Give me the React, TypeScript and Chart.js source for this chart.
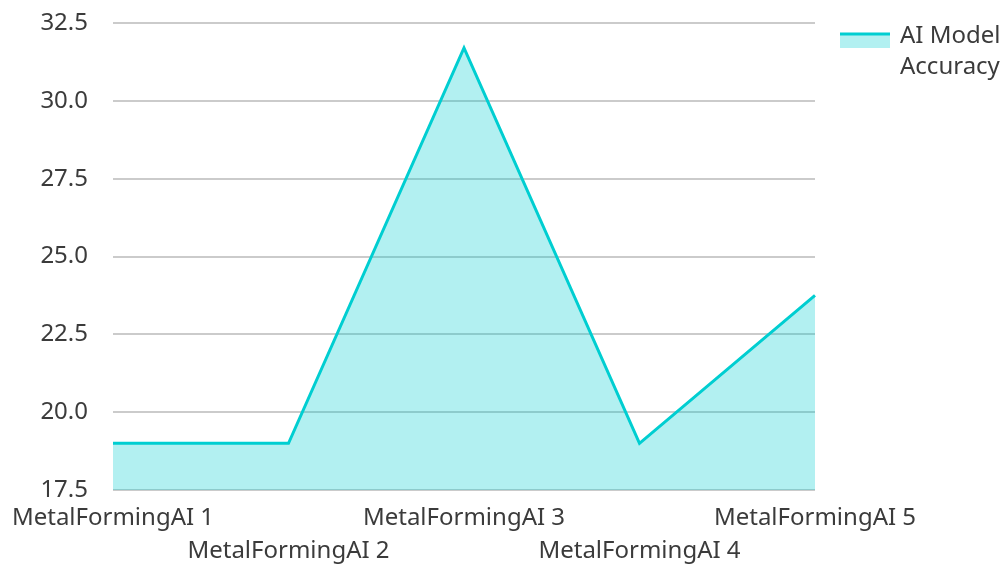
import React, { useEffect, useRef } from 'react';
import { Chart, registerables } from 'chart.js';

Chart.register(...registerables);

const categories: string[] = [
  'MetalFormingAI 1',
  'MetalFormingAI 2',
  'MetalFormingAI 3',
  'MetalFormingAI 4',
  'MetalFormingAI 5',
];
const accuracy: number[] = [19.0, 19.0, 31.7, 19.0, 23.75];
const legendLines: string[] = ['AI Model', 'Accuracy'];
const yMin = 17.5;
const yMax = 32.5;
const yStep = 2.5;

const LINE = '#00CED1';
const FILL = 'rgba(0, 206, 209, 0.3)';
const TEXT = '#3b3b3b';
const FONT = "'Noto Sans', 'Open Sans', sans-serif";
const FS = 24;

const legendPlugin = {
  id: 'customLegend',
  afterDraw(chart: any) {
    const ctx = chart.ctx;
    const area = chart.chartArea;
    const x = area.right + 25;
    const y = area.top + 11;
    ctx.save();
    ctx.fillStyle = FILL;
    ctx.fillRect(x, y, 50, 14);
    ctx.strokeStyle = LINE;
    ctx.lineWidth = 3;
    ctx.beginPath();
    ctx.moveTo(x, y);
    ctx.lineTo(x + 50, y);
    ctx.stroke();
    ctx.fillStyle = TEXT;
    ctx.font = `${FS}px ${FONT}`;
    ctx.textBaseline = 'middle';
    ctx.textAlign = 'left';
    legendLines.forEach((t, i) => {
      ctx.fillText(t, x + 60, y + 2 + i * 31);
    });
    ctx.restore();
  },
};

export default function App() {
  const ref = useRef<HTMLCanvasElement | null>(null);

  useEffect(() => {
    if (!ref.current) return;
    const chart = new Chart(ref.current, {
      type: 'line',
      data: {
        labels: categories,
        datasets: [
          {
            label: legendLines.join(' '),
            data: accuracy,
            borderColor: LINE,
            backgroundColor: FILL,
            borderWidth: 3,
            fill: 'start',
            tension: 0,
            pointRadius: 0,
            pointHoverRadius: 0,
          },
        ],
      },
      options: {
        responsive: true,
        maintainAspectRatio: false,
        animation: false,
        layout: { padding: { top: 0, right: 190, left: 0, bottom: 0 } },
        plugins: {
          legend: { display: false },
          tooltip: { enabled: false },
        },
        scales: {
          x: {
            offset: false,
            grid: { display: false, drawTicks: false },
            border: { display: false },
            afterFit: (scale: any) => {
              scale.height = 74;
            },
            ticks: {
              autoSkip: false,
              maxRotation: 0,
              minRotation: 0,
              padding: 11,
              color: TEXT,
              font: { family: FONT, size: FS, lineHeight: 1.4 },
              callback: (_v: any, i: number) =>
                i % 2 === 0 ? [categories[i], ''] : ['', categories[i]],
            },
          },
          y: {
            min: yMin,
            max: yMax,
            border: { display: false },
            grid: { color: '#cbcbcb', lineWidth: 2, drawTicks: false },
            afterFit: (scale: any) => {
              scale.width = 113;
              scale.paddingTop = 23;
              scale.paddingBottom = 10;
            },
            ticks: {
              stepSize: yStep,
              padding: 25,
              color: TEXT,
              font: { family: FONT, size: FS },
              callback: (v: any) => Number(v).toFixed(1),
            },
          },
        },
      },
      plugins: [legendPlugin],
    });
    return () => chart.destroy();
  }, []);

  return (
    <div style={{ position: 'fixed', left: 0, top: 0, width: 1005, height: 564 }}>
      <canvas ref={ref} />
    </div>
  );
}
